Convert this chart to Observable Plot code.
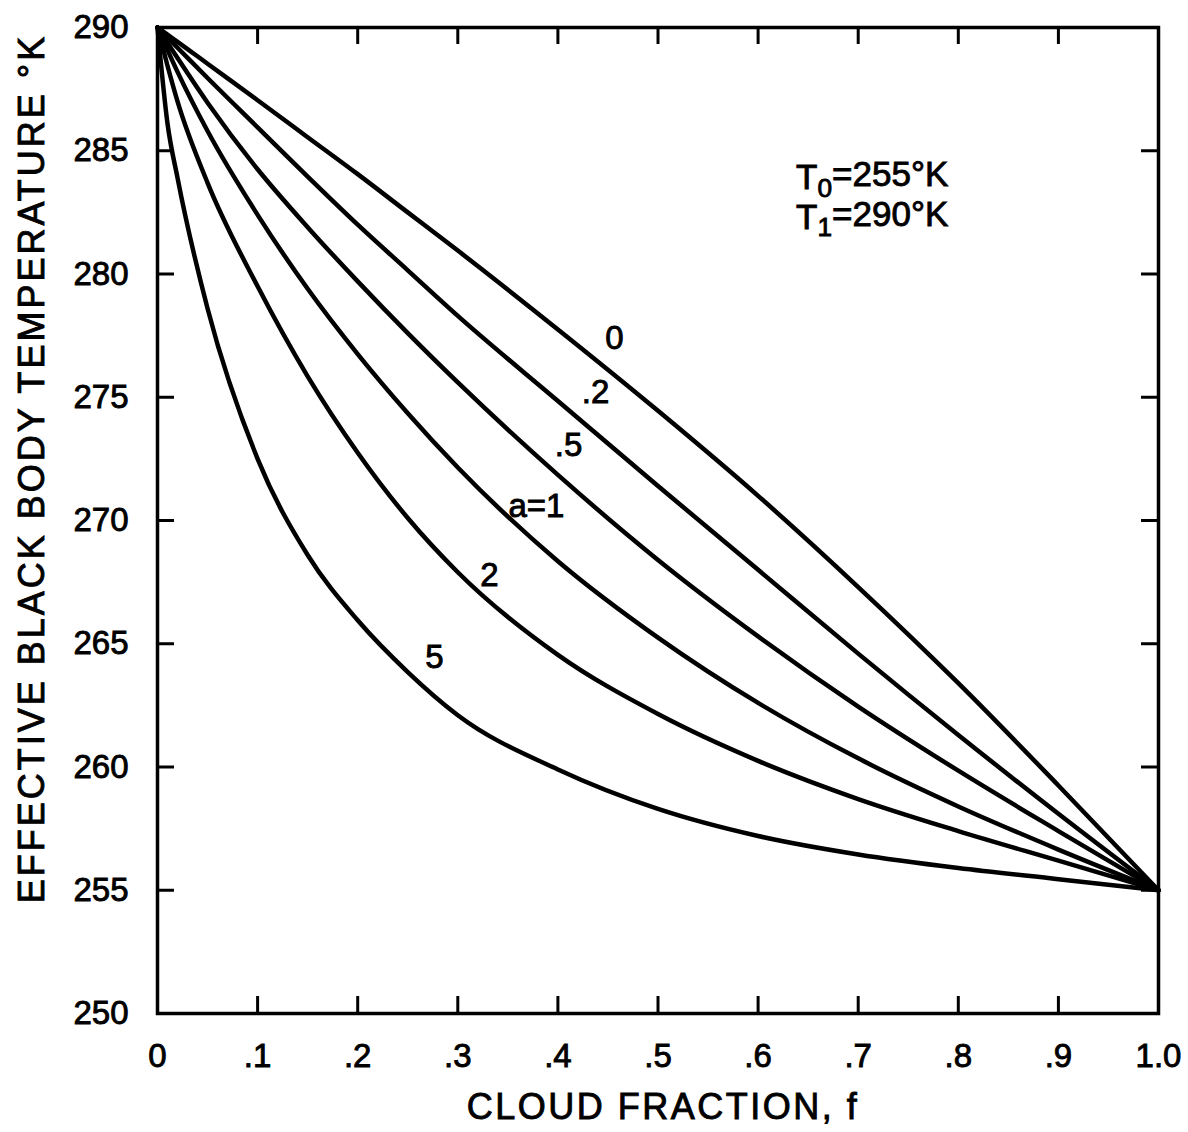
<!DOCTYPE html>
<html>
<head>
<meta charset="utf-8">
<script src="https://cdn.jsdelivr.net/npm/d3@7"></script>
<script src="https://cdn.jsdelivr.net/npm/@observablehq/plot@0.6"></script>
<style>
  body { margin: 0; background: #fff; }
  #chart svg text { stroke: #000; stroke-width: 0.9px; }
</style>
</head>
<body>
<div id="chart"></div>
<script>
// ---- data ----
const cloudFraction = [0, 0.01, 0.02, 0.05, 0.1, 0.15, 0.2, 0.25, 0.3, 0.4, 0.5, 0.6, 0.7, 0.8, 0.9, 1.0];
const tempA0  = [290, 289.71, 289.42, 288.53, 287.05, 285.55, 284.05, 282.5, 280.95, 277.75, 274.45, 271.0, 267.3, 263.4, 259.25, 255];
const tempA02 = [290, 289.59, 289.18, 287.95, 285.95, 283.95, 282.0, 280.15, 278.3, 274.85, 271.4, 268.0, 264.6, 261.3, 258.1, 255];
const tempA05 = [290, 289.38, 288.76, 286.95, 284.25, 281.9, 279.7, 277.6, 275.6, 271.85, 268.4, 265.3, 262.45, 259.85, 257.4, 255];
const tempA1  = [290, 289.08, 288.2, 285.8, 282.4, 279.4, 276.75, 274.35, 272.15, 268.35, 265.25, 262.6, 260.35, 258.4, 256.65, 255];
const tempA2  = [290, 288.45, 287.0, 283.7, 279.5, 275.85, 272.75, 270.1, 267.9, 264.55, 262.15, 260.25, 258.7, 257.4, 256.2, 255];
const tempA5  = [290, 286.1, 283.9, 278.6, 272.5, 268.6, 265.95, 263.85, 262.1, 259.9, 258.3, 257.2, 256.45, 255.9, 255.45, 255];

const seriesKeys  = ["0", ".2", ".5", "1", "2", "5"];
const seriesTemps = [tempA0, tempA02, tempA05, tempA1, tempA2, tempA5];

const curveLabelText = ["0", ".2", ".5", "a=1", "2", "5"];
const curveLabelF    = [0.4565, 0.4376, 0.4106, 0.3786, 0.3317, 0.2767];
const curveLabelT    = [277.4, 275.2, 273.04, 270.57, 267.77, 264.44];

const annotSymbol = ["T", "T"];
const annotSub    = ["0", "1"];
const annotValue  = ["=255°K", "=290°K"];
const annotF      = [0.79, 0.79];
const annotT      = [283.9, 282.3];

const xTicks      = [0, 0.1, 0.2, 0.3, 0.4, 0.5, 0.6, 0.7, 0.8, 0.9, 1.0];
const xTickLabels = ["0", ".1", ".2", ".3", ".4", ".5", ".6", ".7", ".8", ".9", "1.0"];
const yTicks      = [250, 255, 260, 265, 270, 275, 280, 285, 290];
const xTitle = "CLOUD FRACTION, f";
const yTitle = "EFFECTIVE BLACK BODY TEMPERATURE °K";

// ---- build table ----
const rows = seriesKeys.flatMap((k, s) =>
  cloudFraction.map((f, i) => ({a: k, f, t: seriesTemps[s][i]})));
const labels = curveLabelText.map((text, i) => ({text, f: curveLabelF[i], t: curveLabelT[i]}));
const annots = annotSymbol.map((s, i) => ({text: s + annotSub[i] + annotValue[i], f: annotF[i], t: annotT[i]}));
const xLabelOf = new Map(xTicks.map((d, i) => [d, xTickLabels[i]]));
const innerX = xTicks.slice(1, -1);
const innerY = yTicks.slice(1, -1);

const W = 1188, H = 1132, mL = 157, mR = 30, mT = 27, mB = 119;
const iw = W - mL - mR, ih = H - mT - mB, tickLen = 17;

const chart = Plot.plot({
  width: W, height: H,
  marginLeft: mL, marginRight: mR, marginTop: mT, marginBottom: mB,
  style: {fontFamily: "'Liberation Sans', Arial, Helvetica, sans-serif", background: "#fff", color: "#000"},
  x: {domain: [0, 1]},
  y: {domain: [250, 290]},
  marks: [
    Plot.line(rows, {x: "f", y: "t", z: "a", stroke: "#000", strokeWidth: 4.5, curve: "monotone-x", strokeLinejoin: "round", strokeLinecap: "round"}),
    Plot.tickX(innerX, {x: d => d, insetTop: ih - tickLen, strokeWidth: 3, stroke: "#000"}),
    Plot.tickX(innerX, {x: d => d, insetBottom: ih - tickLen, strokeWidth: 3, stroke: "#000"}),
    Plot.tickY(innerY, {y: d => d, insetRight: iw - tickLen, strokeWidth: 3, stroke: "#000"}),
    Plot.tickY(innerY, {y: d => d, insetLeft: iw - tickLen, strokeWidth: 3, stroke: "#000"}),
    Plot.frame({stroke: "#000", strokeWidth: 3.5}),
    Plot.axisX(xTicks, {anchor: "bottom", tickSize: 0, tickPadding: 30, fontSize: 33, tickFormat: d => xLabelOf.get(d), label: null}),
    Plot.axisY(yTicks, {anchor: "left", tickSize: 0, tickPadding: 29, fontSize: 33, tickFormat: d => String(d), label: null}),
    Plot.text([xTitle], {frameAnchor: "bottom", textAnchor: "middle", lineAnchor: "top", dy: 80, dx: 5, fontSize: 36, fill: "#000"}),
    Plot.text([yTitle], {frameAnchor: "left", textAnchor: "middle", rotate: -90, dx: -125, dy: -52, fontSize: 36, fill: "#000"}),
    Plot.text(labels, {x: "f", y: "t", text: "text", fontSize: 33, fill: "#000"}),
    Plot.text(annots, {x: "f", y: "t", text: "text", textAnchor: "end", fontSize: 35, fill: "#000"})
  ]
});

document.getElementById("chart").appendChild(chart);

// letter spacing for the titles, subscripts for T0 / T1
const ns = "http://www.w3.org/2000/svg";
chart.querySelectorAll("text").forEach(el => {
  const s = el.textContent;
  if (s === xTitle) el.style.letterSpacing = "2.5px";
  if (s === yTitle) el.style.letterSpacing = "3px";
  const k = annots.findIndex(d => d.text === s);
  if (k >= 0) {
    el.textContent = "";
    const a = document.createElementNS(ns, "tspan"); a.textContent = annotSymbol[k];
    const b = document.createElementNS(ns, "tspan"); b.textContent = annotSub[k];
    b.setAttribute("dy", "0.3em"); b.setAttribute("font-size", "75%");
    const c = document.createElementNS(ns, "tspan"); c.textContent = annotValue[k];
    c.setAttribute("dy", "-0.3em");
    el.append(a, b, c);
  }
});
</script>
</body>
</html>
